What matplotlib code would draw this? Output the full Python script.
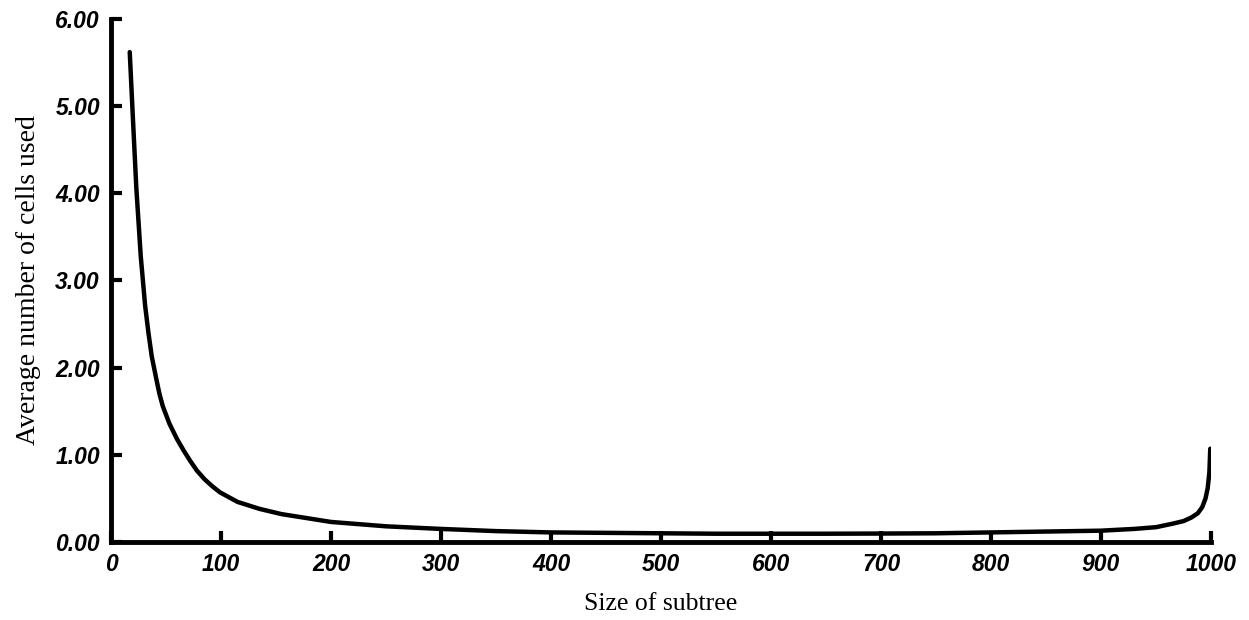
import matplotlib
matplotlib.use('Agg')
import matplotlib.pyplot as plt

# values
subtree_size = [17, 20, 23, 27, 31, 34, 37, 41, 44, 47, 53, 60, 66, 72, 78, 85, 92, 99,
                115, 135, 155, 180, 200, 250, 300, 350, 400, 450, 500, 550, 600, 650,
                700, 750, 800, 850, 900, 930, 950, 965, 975, 982, 988, 992, 995, 997,
                998.5, 999.3]
avg_cells = [5.62, 4.83, 4.06, 3.28, 2.71, 2.40, 2.13, 1.88, 1.70, 1.56, 1.36, 1.18, 1.05,
             0.93, 0.82, 0.72, 0.64, 0.57, 0.46, 0.38, 0.32, 0.27, 0.23, 0.18, 0.15,
             0.125, 0.11, 0.105, 0.10, 0.095, 0.095, 0.095, 0.097, 0.10, 0.11, 0.12,
             0.13, 0.15, 0.17, 0.21, 0.24, 0.28, 0.33, 0.40, 0.50, 0.62, 0.80, 1.07]

x_ticks = [0, 100, 200, 300, 400, 500, 600, 700, 800, 900, 1000]
y_ticks = [0, 1, 2, 3, 4, 5, 6]

fig = plt.figure(figsize=(12.49, 6.20), dpi=100)
ax = fig.add_axes([0.0889, 0.1258, 0.8807, 0.8436])

ax.plot(subtree_size, avg_cells, color='black', linewidth=3.2, solid_capstyle='round',
        solid_joinstyle='round')

ax.set_xlim(0, 1000)
ax.set_ylim(0, 6)
ax.set_xticks(x_ticks)
ax.set_yticks(y_ticks)
ax.set_xticklabels([str(t) for t in x_ticks])
ax.set_yticklabels(['%.2f' % t for t in y_ticks])

for side in ['top', 'right']:
    ax.spines[side].set_visible(False)
for side in ['left', 'bottom']:
    ax.spines[side].set_linewidth(3.5)
    ax.spines[side].set_capstyle('projecting')

ax.tick_params(direction='in', length=8, width=3, pad=8)
for lab in ax.get_xticklabels() + ax.get_yticklabels():
    lab.set_family('Liberation Sans')
    lab.set_fontweight('bold')
    lab.set_fontstyle('italic')
    lab.set_fontsize(16.5)

ax.set_xlabel('Size of subtree', family='Liberation Serif', fontsize=18.5, labelpad=12)
ax.set_ylabel('Average number of cells used', family='Liberation Serif', fontsize=20,
              labelpad=10)

fig.savefig('out.png', dpi=100)
